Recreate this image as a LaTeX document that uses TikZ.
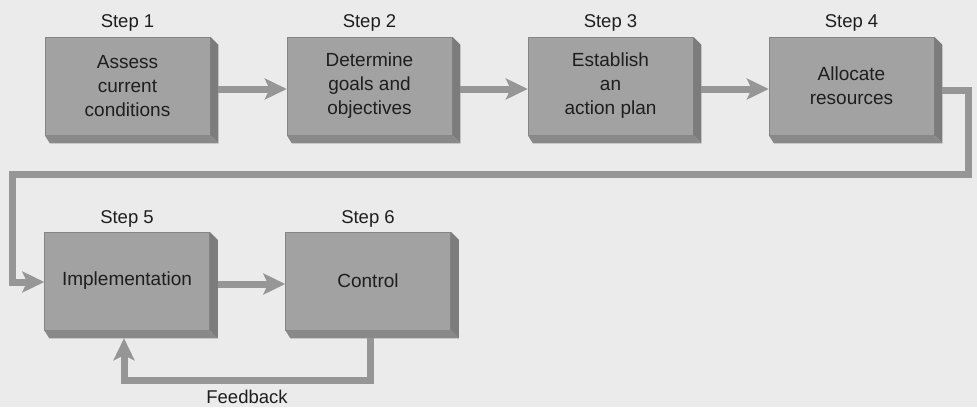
\documentclass[tikz,border=0pt]{standalone}
\usepackage{fontspec}
\setmainfont{Liberation Sans}
\usetikzlibrary{arrows.meta,calc}

\definecolor{paper}{HTML}{EBEBEB}
\definecolor{facegray}{HTML}{A2A2A2}
\definecolor{sidegray}{HTML}{7C7C7C}
\definecolor{basegray}{HTML}{898989}
\definecolor{edgegray}{HTML}{858585}
\definecolor{flowgray}{HTML}{969696}
\definecolor{ink}{HTML}{1E1E1E}

\tikzset{
  stepbox/.style={fill=facegray, draw=edgegray, line width=0.5pt,
    minimum width=165pt, minimum height=98pt, inner sep=0pt,
    align=center, text=ink, font=\fontsize{19}{24}\selectfont},
  steplabel/.style={anchor=base, inner sep=0pt, text=ink,
    font=\fontsize{18.5}{22}\selectfont},
  flow/.style={draw=flowgray, line width=7pt,
    -{Stealth[length=22pt,width=21pt,inset=5pt]}},
}

\begin{document}
\begin{tikzpicture}[x=1pt,y=-1pt]
  % page and background
  \useasboundingbox (0,0) rectangle (977,407);
  \fill[paper] (0,0) rectangle (977,407);

  % process steps
  \node[stepbox] (b1) at (127.5,86) {Assess\\current\\conditions};
  \node[stepbox] (b2) at (369.5,86) {Determine\\goals and\\objectives};
  \node[stepbox] (b3) at (610.5,86) {Establish\\an\\action plan};
  \node[stepbox] (b4) at (851.5,86) {Allocate\\resources};
  \node[stepbox] (b5) at (127,281) {Implementation};
  \node[stepbox] (b6) at (368,281) {Control};

  % extruded side and bottom faces
  \foreach \n in {b1,b2,b3,b4,b5,b6} {
    \fill[sidegray] (\n.north east) -- ++(8,8)
      -- ($(\n.south east)+(8,8)$) -- (\n.south east) -- cycle;
    \fill[basegray] (\n.south west) -- (\n.south east)
      -- ($(\n.south east)+(8,8)$) -- ($(\n.south west)+(5,8)$) -- cycle;
  }

  % step captions
  \node[steplabel] (s1) at (127.5,27) {Step 1};
  \node[steplabel] (s2) at (369.5,27) {Step 2};
  \node[steplabel] (s3) at (610.5,27) {Step 3};
  \node[steplabel] (s4) at (851.5,27) {Step 4};
  \node[steplabel] (s5) at (127,223) {Step 5};
  \node[steplabel] (s6) at (368,223) {Step 6};

  % forward flow
  \draw[flow] ($(b1.east)+(8,3)$) -- ($(b2.west)+(0,3)$);
  \draw[flow] ($(b2.east)+(8,3)$) -- ($(b3.west)+(0,3)$);
  \draw[flow] ($(b3.east)+(8,3)$) -- ($(b4.west)+(0,3)$);

  % wrap from step 4 down to step 5
  \coordinate (wrapR) at (968,174);
  \coordinate (wrapL) at (12,174);
  \draw[flow] ($(b4.east)+(8,4)$) -| (wrapR) -- (wrapL) |- ($(b5.west)+(0,1)$);

  \draw[flow] ($(b5.east)+(8,3)$) -- ($(b6.west)+(0,3)$);

  % feedback loop
  \coordinate (fbL) at (124,380);
  \draw[flow] ($(b6.south)+(2,8)$) |- (fbL) -- ($(b5.south)+(-3,8)$);
  \node[steplabel] (fb) at (247,403) {Feedback};
\end{tikzpicture}
\end{document}
